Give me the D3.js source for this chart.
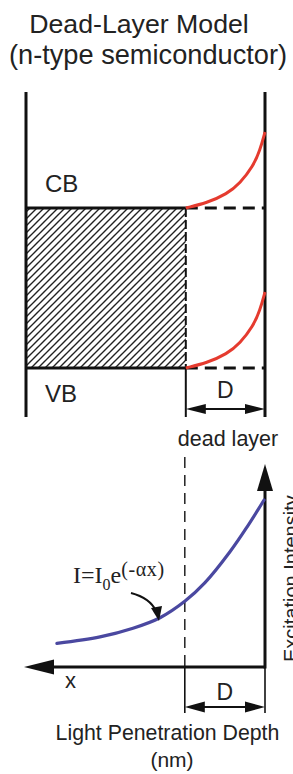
<!DOCTYPE html>
<html>
<head>
<meta charset="utf-8">
<script src="https://cdn.jsdelivr.net/npm/d3@7"></script>
<style>
html,body{margin:0;padding:0;background:#fff;}
svg{display:block;}
</style>
</head>
<body>
<svg id="chart" width="293" height="774"></svg>
<script>
// ---- data ----
const titleLines = ["Dead-Layer Model", "(n-type semiconductor)"];
const bandLabels = ["CB", "VB"];
const bandEnergies = [1, 0];            // CB, VB (relative energy)
const deadLayerDepth = 3.3;             // D (depth units)
const bulkDepth = 10;                   // left edge of the slab
// band bending inside dead layer: depth vs. energy shift
const bendDepth = [0, 0.21, 0.5, 1.04, 1.58, 2.42, 3.3];
const bendShift = [0.475, 0.36, 0.26, 0.155, 0.088, 0.032, 0];
// excitation intensity vs depth
const intDepth = [0.04, 0.75, 1.46, 2.5, 3.33, 4.375, 5.5, 6.875, 8.67];
const intValue = [1.0, 0.838, 0.69, 0.505, 0.395, 0.295, 0.232, 0.180, 0.141];
const axisLabels = {x: "x", y: "Excitation Intensity", depth: "Light Penetration Depth", unit: "(nm)", dead: "dead layer", D: "D"};

// ---- scales ----
const x = d3.scaleLinear().domain([0, bulkDepth]).range([265, 25]);
const yE = d3.scaleLinear().domain([0, 1]).range([368, 208]);
const yI = d3.scaleLinear().domain([0, 1]).range([667, 500]);

const svg = d3.select("#chart");
const SANS = "'Liberation Sans', Arial, Helvetica, sans-serif";
const SERIF = "'Liberation Serif', 'Times New Roman', serif";

const defs = svg.append("defs");
const pat = defs.append("pattern").attr("id","hatch").attr("patternUnits","userSpaceOnUse")
  .attr("width",7).attr("height",7);
pat.append("path").attr("d","M0,7 L7,0 M-1,1 L1,-1 M6,8 L8,6")
  .attr("stroke","#222").attr("stroke-width",1.4);

// ---- title ----
svg.append("text").attr("x",139).attr("y",33).attr("text-anchor","middle")
  .attr("font-family",SANS).attr("font-size",26.7).attr("fill","#222").text(titleLines[0]);
svg.append("text").attr("x",148).attr("y",64).attr("text-anchor","middle")
  .attr("font-family",SANS).attr("font-size",27.2).attr("fill","#222").text(titleLines[1]);

// ---- upper panel ----
const xSurf = x(0), xD = x(deadLayerDepth), xBulk = x(bulkDepth) + 1;
const topY = 92, botY = 417;

// hatched bulk region
svg.append("rect").attr("x",xBulk).attr("y",yE(1)).attr("width",xD - xBulk).attr("height",yE(0)-yE(1))
  .attr("fill","url(#hatch)");
svg.append("line").attr("x1",xD).attr("x2",xD).attr("y1",yE(1)).attr("y2",yE(0))
  .attr("stroke","#111").attr("stroke-width",2).attr("stroke-dasharray","9,3");

// slab edges
[xBulk, xSurf].forEach(xx => {
  svg.append("line").attr("x1",xx).attr("x2",xx).attr("y1",topY).attr("y2",botY)
    .attr("stroke","#111").attr("stroke-width",3);
});
svg.append("line").attr("x1",xD).attr("x2",xD).attr("y1",yE(0)).attr("y2",botY)
  .attr("stroke","#111").attr("stroke-width",2);

// band lines
bandEnergies.forEach((E,i) => {
  svg.append("line").attr("x1",xBulk-1).attr("x2",xD).attr("y1",yE(E)).attr("y2",yE(E))
    .attr("stroke","#111").attr("stroke-width",3);
  svg.append("line").attr("x1",xD).attr("x2",xSurf).attr("y1",yE(E)).attr("y2",yE(E))
    .attr("stroke","#111").attr("stroke-width",3).attr("stroke-dasharray","12,7");
  const bend = d3.line().x(d => x(d[0])).y(d => yE(E + d[1])).curve(d3.curveBasis);
  svg.append("path").attr("d", bend(bendDepth.map((d,k)=>[d,bendShift[k]])))
    .attr("fill","none").attr("stroke","#e53b2f").attr("stroke-width",3);
});
svg.append("text").attr("x",45).attr("y",192).attr("font-family",SANS).attr("font-size",24)
  .attr("fill","#222").text(bandLabels[0]);
svg.append("text").attr("x",45).attr("y",402).attr("font-family",SANS).attr("font-size",24)
  .attr("fill","#222").text(bandLabels[1]);

function dblArrow(y, a, b, h){
  svg.append("line").attr("x1",a+10).attr("x2",b-10).attr("y1",y).attr("y2",y)
    .attr("stroke","#111").attr("stroke-width",1.8);
  svg.append("path").attr("d",`M${a},${y} L${a+20},${y-h} L${a+20},${y+h} Z`).attr("fill","#111");
  svg.append("path").attr("d",`M${b},${y} L${b-20},${y-h} L${b-20},${y+h} Z`).attr("fill","#111");
}
dblArrow(409, xD, xSurf, 5);
svg.append("text").attr("x",(xD+xSurf)/2).attr("y",398).attr("text-anchor","middle")
  .attr("font-family",SANS).attr("font-size",23).attr("fill","#222").text(axisLabels.D);

// ---- lower panel ----
svg.append("text").attr("x",228).attr("y",446).attr("text-anchor","middle")
  .attr("font-family",SANS).attr("font-size",21.5).attr("fill","#222").text(axisLabels.dead);
const xD2 = xD - 1;
svg.append("line").attr("x1",xD2).attr("x2",xD2).attr("y1",457).attr("y2",yI(0))
  .attr("stroke","#222").attr("stroke-width",1.5).attr("stroke-dasharray","11,7");

// axes
const yAxisX = xSurf;
svg.append("line").attr("x1",yAxisX).attr("x2",yAxisX).attr("y1",yI(0)+1.5).attr("y2",488)
  .attr("stroke","#111").attr("stroke-width",3);
svg.append("path").attr("d",`M${yAxisX},464 L${yAxisX-8},491 L${yAxisX+8},491 Z`).attr("fill","#111");
svg.append("line").attr("x1",yAxisX).attr("x2",52).attr("y1",yI(0)).attr("y2",yI(0))
  .attr("stroke","#111").attr("stroke-width",3);
svg.append("path").attr("d",`M24,${yI(0)} L54,${yI(0)-7.5} L54,${yI(0)+7.5} Z`).attr("fill","#111");

// lower D marker
[xD2, xSurf].forEach(xx => {
  svg.append("line").attr("x1",xx).attr("x2",xx).attr("y1",yI(0)).attr("y2",713)
    .attr("stroke","#111").attr("stroke-width",1.6);
});
dblArrow(707, xD2, xSurf, 5.5);
svg.append("text").attr("x",(xD2+xSurf)/2).attr("y",700).attr("text-anchor","middle")
  .attr("font-family",SANS).attr("font-size",23).attr("fill","#222").text(axisLabels.D);

// intensity curve
const iline = d3.line().x(d => x(d[0])).y(d => yI(d[1])).curve(d3.curveCatmullRom.alpha(0.5));
svg.append("path").attr("d", iline(intDepth.map((d,k)=>[d,intValue[k]])))
  .attr("fill","none").attr("stroke","#4a48a0").attr("stroke-width",3.2).attr("stroke-linecap","round");

// labels
svg.append("text").attr("x",65).attr("y",688).attr("font-family",SANS).attr("font-size",22)
  .attr("fill","#222").text(axisLabels.x);
svg.append("text").attr("x",167.5).attr("y",740).attr("text-anchor","middle")
  .attr("font-family",SANS).attr("font-size",21.3).attr("fill","#222").text(axisLabels.depth);
svg.append("text").attr("x",172).attr("y",767).attr("text-anchor","middle")
  .attr("font-family",SANS).attr("font-size",21).attr("fill","#222").text(axisLabels.unit);
svg.append("text").attr("transform","translate(298,662) rotate(-90)")
  .attr("font-family",SANS).attr("font-size",20).attr("fill","#222").text(axisLabels.y);

// formula
const f = svg.append("text").attr("x",73).attr("y",583).attr("font-family",SERIF)
  .attr("font-size",24).attr("fill","#222");
f.append("tspan").text("I=I");
f.append("tspan").attr("font-size",16).attr("dy",7).text("0");
f.append("tspan").attr("dy",-7).text("e");
f.append("tspan").attr("font-size",20).attr("dy",-7).attr("letter-spacing",0.6).text("(-αx)");

// pointer arrow
svg.append("path").attr("d","M131,593 Q150,598 156,611")
  .attr("fill","none").attr("stroke","#111").attr("stroke-width",2.2);
svg.append("path").attr("d","M159,621 L151,608 L162,606 Z").attr("fill","#111");
</script>
</body>
</html>
